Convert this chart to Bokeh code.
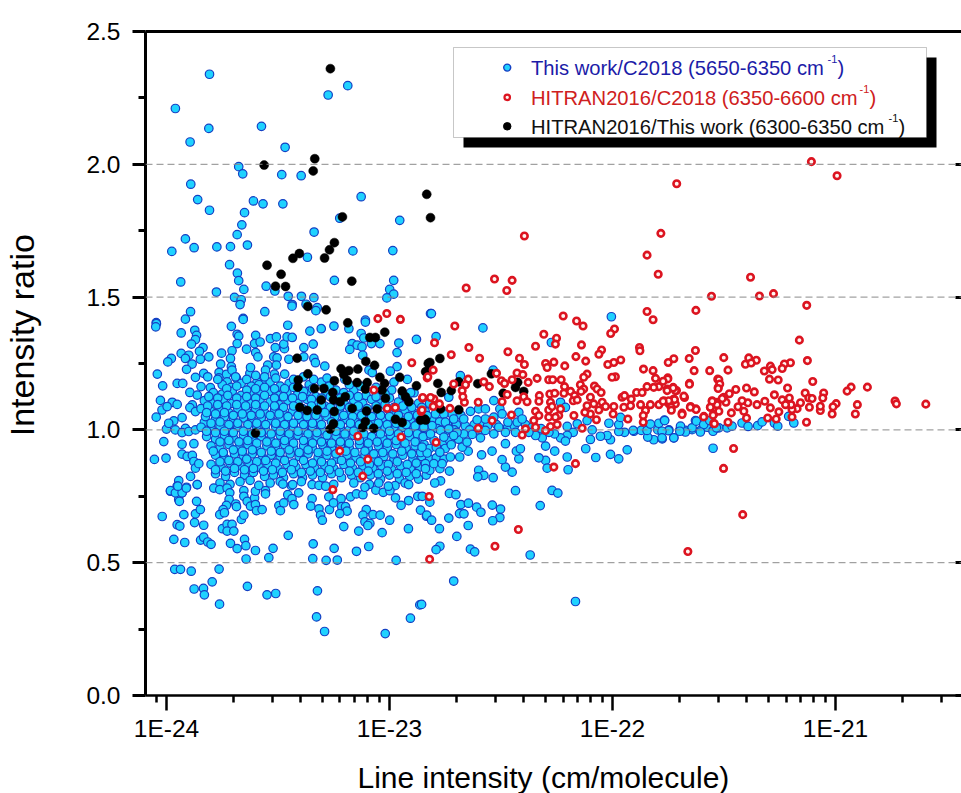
from bokeh.plotting import figure
from bokeh.models import (ColumnDataSource, FixedTicker, LinearAxis, Label, BoxAnnotation, Span, Title,
                          CustomJSTickFormatter, NumeralTickFormatter, Range1d)
from bokeh.embed import file_html
from bokeh.resources import INLINE

# (log10 intensity, ratio)
blue_upper = [(-23.807,2.339),(-23.96,2.21),(-23.81,2.135),(-23.574,2.143),(-23.894,2.084),(-23.468,2.064),(-23.275,2.261),(-23.187,2.296),
(-23.676,1.991),(-23.658,1.964),(-23.483,1.961),(-23.396,1.957),(-23.891,1.925),(-23.86,1.867),(-23.807,1.827),(-23.61,1.862),(-23.567,1.851),
(-23.478,1.851),(-23.127,1.878),(-23.65,1.818),(-23.662,1.772),(-23.223,1.797),(-22.954,1.789),(-23.683,1.735),(-23.338,1.745),(-23.915,1.719),
(-23.976,1.672),(-23.876,1.686),(-23.774,1.689),(-23.713,1.69),(-23.637,1.696),(-23.164,1.674),(-22.985,1.675),(-23.368,1.65),(-23.717,1.622),
(-23.682,1.59),(-23.676,1.562),(-23.936,1.557),(-23.776,1.519),(-23.653,1.529),(-23.553,1.541),(-23.514,1.523),(-23.247,1.563),(-22.981,1.563),
(-22.999,1.529),(-22.981,1.511),(-23.012,1.497),(-23.695,1.499),(-23.665,1.49),(-23.67,1.472),(-23.454,1.503),(-23.395,1.503),(-23.339,1.498),
(-23.436,1.472),(-23.374,1.473),(-23.324,1.46),(-23.33,1.449),(-23.892,1.445),(-23.559,1.445),(-23.915,1.417),(-23.656,1.42),(-24.046,1.404),
(-23.108,1.413),(-22.816,1.438),(-22.812,1.438),(-22.005,1.426),(-22.581,1.384),(-22.791,1.351),(-22.274,1.329),(-22.682,1.204),(-22.535,1.225)]

blue_left = [(-24.045,1.4),(-24.048,1.388),(-23.934,1.365),(-23.873,1.375),(-23.865,1.356),(-23.87,1.34),(-23.888,1.323),(-23.836,1.31),(-23.852,1.296),
(-23.934,1.288),(-23.9,1.281),(-23.915,1.269),(-23.978,1.269),(-23.994,1.256),(-23.81,1.275),(-23.848,1.266),(-23.885,1.248),(-23.91,1.228),(-24.041,1.21),
(-23.952,1.175),(-23.927,1.175),(-24.017,1.166),(-23.833,1.213),(-23.87,1.198),(-23.815,1.2),(-23.845,1.163),(-23.803,1.159),(-23.895,1.141),(-24.027,1.111),
(-23.974,1.104),(-23.952,1.096),(-23.862,1.131),(-23.884,1.094),(-23.895,1.084),(-23.87,1.069),(-24.02,1.075),(-23.997,1.088),(-24.046,1.048),(-23.93,1.046),
(-24.0,1.003),(-23.967,1.034),(-23.99,1.025),(-23.915,1.006),(-23.83,1.029),(-23.96,1.0),(-23.93,0.99),(-23.9,0.994),(-23.87,1.0),(-24.012,0.956),(-23.93,0.946),
(-23.877,0.948),(-24.054,0.889),(-24.002,0.894),(-23.93,0.909),(-23.907,0.9),(-23.884,0.904),(-23.877,0.881),(-23.87,0.856),(-23.855,0.873),(-23.892,0.825),
(-23.945,0.809),(-23.862,0.794),(-23.952,0.788),(-23.91,0.784),(-23.982,0.769),(-23.93,0.763),(-23.945,0.738)]

blue_stem = [(-23.709,1.39),(-23.683,1.36),(-23.676,1.353),(-23.683,1.325),(-23.706,1.298),(-23.753,1.289),(-23.757,1.248),(-23.713,1.269),(-23.709,1.238),
(-23.764,1.216),(-23.731,1.209),(-23.706,1.225),(-23.765,1.196),(-23.728,1.181),(-23.686,1.194),(-23.656,1.416),(-23.6,1.356),(-23.605,1.325),(-23.641,1.304),
(-23.6,1.291),(-23.59,1.275),(-23.626,1.213),(-23.623,1.235),(-23.58,1.331),(-23.534,1.344),(-23.507,1.35),(-23.512,1.31),(-23.471,1.306),(-23.474,1.323),
(-23.456,1.394),(-23.437,1.466),(-23.459,1.35),(-23.436,1.348),(-23.519,1.275),(-23.504,1.271),(-23.507,1.244),(-23.546,1.244),(-23.516,1.21),(-23.556,1.225),
(-23.594,1.181),(-23.556,1.185),(-23.451,1.266),(-23.384,1.31),(-23.342,1.323),(-23.306,1.381),(-23.249,1.391),(-23.357,1.372),(-23.182,1.381),(-23.108,1.406),
(-23.127,1.363),(-23.115,1.346),(-23.081,1.325),(-23.043,1.325),(-22.958,1.327),(-22.879,1.341),(-23.167,1.325),(-23.145,1.319),(-23.178,1.303),(-23.123,1.313),
(-23.12,1.281),(-22.966,1.291),(-23.384,1.275),(-23.339,1.269),(-23.332,1.253),(-23.29,1.24),(-22.966,1.238),(-22.996,1.221),(-23.092,1.225),(-23.077,1.216)]

blue_core_high = [(-23.75,1.17),(-23.71,1.16),(-23.665,1.175),(-23.62,1.165),(-23.585,1.17),(-23.535,1.18),(-23.49,1.165),(-23.45,1.175),(-23.405,1.155),(-23.36,1.17),(-23.305,1.18),(-23.2,1.19),(-23.06,1.16),(-22.98,1.18),(-22.92,1.19),
(-23.79,1.14),(-23.75,1.135),(-23.705,1.145),(-23.665,1.13),(-23.625,1.14),(-23.58,1.135),(-23.54,1.145),(-23.5,1.13),(-23.46,1.14),(-23.415,1.13),(-23.37,1.145),(-23.33,1.125),(-23.285,1.14),(-23.24,1.15),(-23.205,1.14),(-23.16,1.15),(-23.105,1.13),(-22.99,1.15),(-22.89,1.14),
(-23.83,1.11),(-23.79,1.105),(-23.745,1.115),(-23.705,1.1),(-23.66,1.11),(-23.62,1.1),(-23.58,1.115),(-23.535,1.105),(-23.495,1.095),(-23.455,1.11),(-23.41,1.1),(-23.37,1.115),(-23.325,1.1),(-23.29,1.09),(-23.245,1.11),(-23.2,1.095),(-23.16,1.11),(-23.12,1.1),(-23.08,1.115),(-23.04,1.1),(-23.0,1.12),(-22.96,1.105),(-22.92,1.115),(-22.87,1.1),
(-23.845,1.08),(-23.8,1.07),(-23.76,1.08),(-23.72,1.065),(-23.68,1.08),(-23.64,1.07),(-23.6,1.08),(-23.56,1.065),(-23.515,1.075),(-23.475,1.06),(-23.435,1.07),(-23.39,1.055),(-23.35,1.065),(-23.31,1.08),(-23.265,1.06),(-23.225,1.075),(-23.18,1.06),(-23.14,1.07),(-23.095,1.055),(-23.055,1.065),(-23.01,1.08),(-22.97,1.065),(-22.93,1.075),(-22.885,1.06),(-22.84,1.07),
(-23.825,1.05),(-23.78,1.04),(-23.74,1.05),(-23.7,1.035),(-23.655,1.045),(-23.615,1.035),(-23.575,1.045),(-23.53,1.035),(-23.49,1.045),(-23.45,1.03),(-23.405,1.04),(-23.365,1.03),(-23.32,1.04),(-23.28,1.05),(-23.24,1.03),(-23.2,1.04),(-23.155,1.03),(-23.115,1.04),(-23.075,1.03),(-23.03,1.045),(-22.99,1.03),(-22.95,1.04),(-22.905,1.03),(-22.865,1.04),(-22.825,1.03),
(-23.845,1.01),(-23.8,1.005),(-23.76,1.015),(-23.72,1.0),(-23.68,1.01),(-23.64,1.0),(-23.595,1.01),(-23.555,1.0),(-23.51,1.012),(-23.47,1.0),(-23.43,1.01),(-23.385,1.0),(-23.345,1.01),(-23.305,1.0),(-23.22,1.01),(-23.18,1.0),(-23.14,1.01),(-23.06,1.005),(-23.02,1.01),(-22.98,1.0),(-22.94,1.01),(-22.895,1.0),(-22.855,1.01),
(-23.82,0.975),(-23.78,0.965),(-23.74,0.98),(-23.7,0.97),(-23.655,0.98),(-23.615,0.965),(-23.575,0.975),(-23.535,0.965),(-23.49,0.98),(-23.45,0.97),(-23.41,0.98),(-23.365,0.965),(-23.325,0.975),(-23.285,0.96),(-23.24,0.975),(-23.2,0.965),(-23.16,0.98),(-23.115,0.965),(-23.08,0.975),(-23.03,0.965),(-22.995,0.98),(-22.95,0.965),(-22.91,0.975),(-22.87,0.965),(-22.83,0.98)]

blue_core_low = [(-23.8,0.94),(-23.76,0.93),(-23.72,0.945),(-23.675,0.935),(-23.635,0.945),(-23.595,0.93),(-23.55,0.94),(-23.51,0.93),(-23.47,0.945),(-23.43,0.93),(-23.385,0.94),(-23.345,0.93),(-23.3,0.945),(-23.26,0.93),(-23.22,0.94),(-23.18,0.93),(-23.135,0.945),(-23.095,0.93),(-23.05,0.94),(-23.01,0.93),(-22.97,0.945),(-22.925,0.93),(-22.885,0.94),(-22.84,0.925),
(-23.78,0.905),(-23.74,0.895),(-23.695,0.91),(-23.655,0.9),(-23.615,0.91),(-23.57,0.895),(-23.53,0.905),(-23.49,0.895),(-23.445,0.91),(-23.405,0.9),(-23.365,0.91),(-23.32,0.895),(-23.28,0.905),(-23.235,0.89),(-23.19,0.905),(-23.15,0.895),(-23.11,0.905),(-23.065,0.89),(-23.025,0.9),(-22.98,0.89),(-22.94,0.905),(-22.895,0.89),(-22.855,0.9),
(-23.8,0.87),(-23.755,0.86),(-23.715,0.875),(-23.67,0.865),(-23.63,0.875),(-23.585,0.86),(-23.545,0.87),(-23.5,0.855),(-23.46,0.87),(-23.42,0.86),(-23.375,0.87),(-23.335,0.855),(-23.29,0.865),(-23.25,0.855),(-23.205,0.87),(-23.165,0.855),(-23.12,0.865),(-23.075,0.855),(-23.035,0.865),(-22.99,0.85),(-22.95,0.865),(-22.905,0.85),(-22.865,0.86),(-22.825,0.87),
(-23.78,0.835),(-23.735,0.825),(-23.695,0.84),(-23.65,0.83),(-23.61,0.84),(-23.56,0.825),(-23.52,0.83),(-23.475,0.82),(-23.43,0.835),(-23.39,0.82),(-23.345,0.83),(-23.3,0.82),(-23.26,0.835),(-23.215,0.82),(-23.17,0.83),(-23.13,0.82),(-23.085,0.83),(-23.04,0.815),(-23.0,0.83),(-22.955,0.815),(-22.91,0.825),(-22.87,0.815),(-22.835,0.83),
(-23.76,0.8),(-23.715,0.795),(-23.67,0.805),(-23.625,0.81),(-23.535,0.8),(-23.49,0.805),(-23.44,0.79),(-23.395,0.805),(-23.25,0.795),(-23.16,0.8),(-23.09,0.795),(-22.975,0.79),(-22.93,0.8)]

blue_core_fill = [(-23.77,1.19),(-23.69,1.2),(-23.64,1.19),(-23.6,1.205),(-23.56,1.2),(-23.51,1.195),(-23.47,1.21),(-23.43,1.19),(-23.385,1.2),(-23.34,1.19),(-23.28,1.195),
(-23.73,1.155),(-23.685,1.165),(-23.64,1.15),(-23.6,1.155),(-23.56,1.16),(-23.515,1.155),(-23.47,1.155),(-23.43,1.16),(-23.385,1.145),(-23.345,1.155),(-23.27,1.165),(-23.18,1.17),(-23.13,1.165),
(-23.81,1.125),(-23.77,1.12),(-23.725,1.13),(-23.685,1.12),(-23.64,1.125),(-23.6,1.12),(-23.56,1.13),(-23.515,1.12),(-23.475,1.125),(-23.435,1.12),(-23.39,1.125),(-23.35,1.115),(-23.305,1.12),(-23.265,1.125),(-23.22,1.12),(-23.18,1.13),(-23.14,1.125),(-23.06,1.125),(-23.02,1.135),(-22.94,1.13),(-22.905,1.14),
(-23.815,1.09),(-23.77,1.095),(-23.73,1.09),(-23.685,1.095),(-23.645,1.09),(-23.6,1.095),(-23.56,1.09),(-23.515,1.09),(-23.475,1.085),(-23.43,1.09),(-23.39,1.08),(-23.35,1.09),(-23.305,1.095),(-23.265,1.085),(-23.22,1.09),(-23.18,1.085),(-23.14,1.09),(-23.1,1.08),(-23.06,1.09),(-23.02,1.095),(-22.98,1.085),(-22.94,1.09),(-22.9,1.085),(-22.855,1.085),
(-23.82,1.065),(-23.78,1.06),(-23.74,1.065),(-23.7,1.055),(-23.66,1.06),(-23.62,1.055),(-23.58,1.06),(-23.535,1.055),(-23.495,1.06),(-23.455,1.05),(-23.41,1.055),(-23.37,1.05),(-23.33,1.055),(-23.29,1.065),(-23.245,1.05),(-23.205,1.055),(-23.165,1.05),(-23.125,1.055),(-23.08,1.05),(-23.04,1.055),(-23.0,1.05),(-22.96,1.055),(-22.915,1.05),(-22.875,1.055),
(-23.8,1.025),(-23.76,1.03),(-23.72,1.02),(-23.68,1.025),(-23.635,1.02),(-23.595,1.025),(-23.555,1.02),(-23.51,1.025),(-23.47,1.02),(-23.43,1.025),(-23.385,1.02),(-23.345,1.025),(-23.305,1.02),(-23.26,1.03),(-23.22,1.02),(-23.175,1.025),(-23.135,1.02),(-23.095,1.02),(-23.05,1.025),(-23.01,1.02),(-22.97,1.025),(-22.925,1.02),(-22.885,1.015),(-22.845,1.02),
(-23.82,0.995),(-23.78,0.99),(-23.74,0.995),(-23.7,0.99),(-23.655,0.995),(-23.615,0.985),(-23.575,0.99),(-23.53,0.985),(-23.49,0.995),(-23.45,0.985),(-23.41,0.995),(-23.365,0.985),(-23.325,0.99),(-23.28,0.98),(-23.24,0.995),(-23.2,0.985),(-23.16,0.995),(-23.115,0.985),(-23.04,0.985),(-23.0,0.995),(-22.96,0.985),(-22.915,0.99),(-22.875,0.985),(-22.835,0.995),
(-23.76,0.955),(-23.72,0.96),(-23.675,0.955),(-23.635,0.96),(-23.595,0.95),(-23.55,0.955),(-23.51,0.95),(-23.47,0.96),(-23.43,0.95),(-23.385,0.96),(-23.345,0.95),(-23.305,0.955),(-23.26,0.95),(-23.22,0.955),(-23.18,0.95),(-23.135,0.96),(-23.095,0.95),(-23.055,0.955),(-23.01,0.95),(-22.97,0.96),(-22.93,0.95),(-22.885,0.955),(-22.845,0.945),
(-23.79,0.92),(-23.745,0.915),(-23.7,0.925),(-23.66,0.92),(-23.615,0.925),(-23.575,0.915),(-23.53,0.92),(-23.49,0.915),(-23.45,0.925),(-23.405,0.915),(-23.365,0.925),(-23.32,0.915),(-23.28,0.92),(-23.24,0.91),(-23.195,0.92),(-23.155,0.915),(-23.11,0.92),(-23.07,0.91),(-23.03,0.915),(-22.985,0.91),(-22.945,0.92),(-22.9,0.91),(-22.86,0.915),
(-23.76,0.88),(-23.72,0.885),(-23.68,0.88),(-23.64,0.89),(-23.595,0.88),(-23.555,0.885),(-23.51,0.875),(-23.47,0.885),(-23.43,0.875),(-23.385,0.885),(-23.345,0.875),(-23.305,0.88),(-23.26,0.875),(-23.215,0.885),(-23.175,0.875),(-23.13,0.88),(-23.09,0.87),(-23.05,0.88),(-23.005,0.87),(-22.965,0.88),(-22.92,0.87),(-22.88,0.875),
(-23.78,0.85),(-23.735,0.845),(-23.695,0.855),(-23.65,0.85),(-23.61,0.855),(-23.565,0.845),(-23.525,0.85),(-23.48,0.84),(-23.44,0.85),(-23.395,0.84),(-23.355,0.845),(-23.31,0.84),(-23.27,0.85),(-23.225,0.84),(-23.18,0.845),(-23.14,0.84),(-23.095,0.845),(-23.05,0.835),(-23.01,0.845),(-22.965,0.835),(-22.925,0.84),(-22.88,0.835),
(-22.82,1.1),(-22.79,1.085),(-22.76,1.07),(-22.72,1.06),(-22.68,1.055),(-22.81,1.04),(-22.775,1.03),(-22.74,1.02),(-22.7,1.02),(-22.66,1.015),(-22.62,1.02),(-22.58,1.03),(-22.82,1.0),(-22.785,1.005),(-22.75,0.995),(-22.71,1.0),(-22.64,1.0),(-22.6,1.0),(-22.56,1.015),(-22.52,1.02),(-22.47,1.01),(-22.44,1.015),(-22.39,1.02),(-22.36,1.01),(-22.32,1.005),(-22.8,0.96),(-22.76,0.955),(-22.73,0.96),(-22.69,0.965),(-22.82,0.93),(-22.79,0.935),(-22.75,0.93),(-22.82,0.89),(-22.79,0.895),(-22.755,0.89)]

blue_lower = [(-24.019,0.674),(-23.967,0.588),(-23.952,0.643),(-23.94,0.638),(-23.918,0.576),(-23.922,0.681),(-23.874,0.651),(-23.833,0.641),(-23.87,0.684),(-23.848,0.7),
(-23.865,0.731),(-23.942,0.731),(-23.982,0.771),(-23.96,0.763),(-23.93,0.763),(-23.949,0.788),(-23.911,0.781),(-23.862,0.794),(-23.788,0.781),(-23.761,0.775),(-23.728,0.781),
(-23.716,0.763),(-23.719,0.738),(-23.731,0.716),(-23.746,0.7),(-23.761,0.681),(-23.74,0.688),(-23.689,0.721),(-23.686,0.711),(-23.664,0.663),(-23.653,0.679),(-23.749,0.628),
(-23.728,0.644),(-23.706,0.644),(-23.728,0.619),(-23.698,0.619),(-23.847,0.585),(-23.833,0.596),(-23.815,0.578),(-23.8,0.569),(-23.713,0.573),(-23.683,0.553),(-23.65,0.588),
(-23.644,0.564),(-23.601,0.546),(-23.643,0.514),(-23.541,0.519),(-23.522,0.554),(-23.454,0.603),(-23.342,0.571),(-23.344,0.515),(-23.284,0.509),(-23.248,0.554),(-23.234,0.51),
(-23.148,0.543),(-23.093,0.561),(-22.97,0.509),(-23.033,0.613),(-22.915,0.628),(-23.138,0.619),(-23.205,0.636),(-23.963,0.475),(-23.937,0.475),(-23.889,0.468),(-23.764,0.476),
(-23.795,0.428),(-23.876,0.401),(-23.834,0.403),(-23.83,0.379),(-23.762,0.344),(-23.637,0.411),(-23.549,0.379),(-23.51,0.384),(-23.323,0.394),(-23.327,0.296),(-23.291,0.241),
(-23.019,0.233),(-22.906,0.291),(-22.864,0.341),(-23.653,0.771),(-23.653,0.75),(-23.638,0.731),(-23.623,0.713),(-23.605,0.744),(-23.601,0.719),(-23.596,0.696),(-23.571,0.7),
(-23.601,0.769),(-23.586,0.791),(-23.556,0.771),(-23.556,0.759),(-23.496,0.715),(-23.474,0.725),(-23.489,0.696),(-23.456,0.756),(-23.437,0.741),(-23.407,0.763),(-23.429,0.719),
(-23.478,0.796),(-23.434,0.794),(-23.347,0.741),(-23.353,0.713),(-23.316,0.703),(-23.309,0.679),(-23.301,0.66),(-23.269,0.7),(-23.272,0.748),(-23.251,0.725),(-23.217,0.741),
(-23.214,0.711),(-23.197,0.711),(-23.19,0.694),(-23.223,0.685),(-23.175,0.748),(-23.148,0.759),(-23.119,0.756),(-23.11,0.784),(-23.061,0.773),(-23.028,0.765),(-22.998,0.771),
(-23.005,0.788),(-23.048,0.8),(-23.104,0.7),(-23.119,0.679),(-23.074,0.681),(-23.042,0.679),(-23.11,0.654),(-23.088,0.648),(-23.097,0.64),(-22.999,0.66),(-22.973,0.744),
(-22.948,0.716),(-22.914,0.734),(-22.873,0.75),(-22.853,0.75),(-22.861,0.698),(-22.834,0.675),(-22.914,0.794),(-23.347,0.794),(-23.316,0.791),(-23.286,0.788),
(-22.435,0.771),(-22.271,0.772),(-22.245,0.762),(-22.731,0.761),(-22.702,0.756),(-22.324,0.715),(-22.68,0.719),(-22.646,0.724),(-22.609,0.709),(-22.59,0.69),(-22.539,0.717),
(-22.502,0.702),(-22.505,0.67),(-22.537,0.658),(-22.686,0.685),(-22.666,0.684),(-22.734,0.668),(-22.833,0.679),(-22.811,0.66),(-22.776,0.628),(-22.647,0.64),(-22.698,0.599),
(-22.774,0.562),(-22.791,0.549),(-22.637,0.551),(-22.618,0.541),(-22.369,0.529),(-22.712,0.431),(-22.166,0.354),(-22.856,0.343),(-22.819,0.728)]

blue_band = [(-21.549,0.931),(-21.934,0.925),(-21.972,0.891),(-22.009,0.908),(-22.075,0.896),(-22.12,0.929),(-22.203,0.898),(-22.259,0.92),(-22.3,0.939),(-22.3,0.885),(-22.33,0.895),
(-22.293,0.856),(-22.199,0.85),(-22.45,0.841),(-22.48,0.86),(-22.495,0.888),(-22.42,0.891),(-22.431,0.92),(-22.413,0.929),(-22.48,0.948),(-22.54,0.92),(-22.587,0.906),(-22.6,0.848),
(-22.577,0.829),(-22.604,0.823),(-22.535,0.82),(-22.771,0.808),(-22.797,0.8),(-22.731,0.845),(-22.774,0.854),(-22.819,0.848),(-22.839,0.873),(-22.801,0.873),(-22.764,0.873),
(-22.727,0.898),(-22.685,0.898),(-22.647,0.92),(-22.674,0.935),(-22.723,0.944),(-22.831,0.913),(-22.774,0.916),(-22.854,0.935),(-22.839,0.854),
(-21.725,0.97),(-21.815,0.963),(-21.777,0.966),(-21.842,0.973),(-21.904,0.995),(-21.871,0.998),(-21.946,0.991),(-21.972,0.994),(-22.009,0.963),(-22.024,0.979),(-22.054,0.976),
(-22.099,0.964),(-22.091,1.0),(-22.016,1.025),(-21.972,1.02),(-21.964,1.047),(-21.907,0.998),(-21.845,0.998),(-21.797,1.0),(-21.83,1.022),(-21.792,1.025),(-21.767,1.037),(-21.747,1.0),
(-21.698,1.0),(-21.673,0.998),(-21.643,1.001),(-21.605,0.998),(-21.628,1.035),(-21.575,1.01),(-21.549,0.998),(-21.523,1.008),(-22.114,1.035),(-22.158,1.023),(-22.203,1.013),
(-22.176,0.991),(-22.203,0.979),(-22.233,0.97),(-22.26,0.985),(-22.211,0.958),(-22.285,0.991),(-22.315,0.97),(-22.345,0.979),(-22.375,0.991),(-22.427,1.029),(-22.469,1.029),
(-22.435,0.991),(-22.48,0.991),(-22.51,1.01),(-22.532,0.985),(-22.57,0.998),(-22.592,0.97),(-22.629,0.983),(-22.667,0.985),(-22.697,0.991),(-22.652,0.954),(-22.667,1.041),
(-22.637,1.07),(-22.6,1.079),(-22.57,1.079),(-22.532,1.11),(-22.505,1.079),(-22.532,1.048),(-22.57,1.041),(-22.607,1.038),(-22.712,1.041),(-22.756,1.06),(-22.794,1.06),(-22.831,1.054),
(-22.749,1.029),(-22.771,0.998),(-22.734,1.004),(-22.809,1.016),(-22.846,1.01),(-22.849,0.975),(-22.816,0.985),(-22.756,0.973),(-22.712,0.979),(-22.42,1.066),(-22.405,1.041),
(-22.495,1.06),(-22.734,1.123),(-22.233,1.104),(-22.211,1.085),
(-21.766,1.035),(-21.695,1.014),(-21.643,1.008),(-21.624,1.033),(-21.591,1.02),(-21.564,1.035),(-21.549,0.995),(-21.606,0.992),(-21.673,0.992),(-21.725,0.97),(-21.748,0.997),
(-21.778,0.995),(-21.486,1.008),(-21.419,1.026),(-21.392,1.013),(-21.349,1.016),(-21.329,1.03),(-21.274,1.026),(-21.259,1.014),(-21.187,1.026),(-21.21,1.051),(-21.464,1.014),
(-21.534,1.008),(-21.698,0.995),(-21.778,0.97)]

black_points = [(-23.265,2.36),(-23.335,2.021),(-23.342,1.975),(-23.562,1.997),(-22.833,1.887),(-22.816,1.799),(-23.211,1.802),(-23.247,1.705),(-23.269,1.678),(-23.291,1.647),
(-23.404,1.664),(-23.433,1.646),(-23.549,1.62),(-23.486,1.586),(-23.511,1.541),(-23.466,1.54),(-23.169,1.56),(-23.366,1.465),(-23.284,1.452),(-23.187,1.403),(-23.021,1.368),
(-23.088,1.348),(-23.063,1.348),(-23.414,1.27),(-23.106,1.258),(-23.067,1.243),(-23.366,1.211),(-23.217,1.23),(-23.182,1.223),(-23.142,1.229),(-23.205,1.209),(-23.19,1.186),
(-23.145,1.178),(-23.247,1.185),(-23.409,1.188),(-23.411,1.161),(-23.336,1.156),(-23.294,1.156),(-23.254,1.141),(-23.306,1.113),(-23.251,1.113),(-23.221,1.106),(-23.198,1.125),
(-23.1,1.178),(-23.108,1.154),(-23.043,1.198),(-23.022,1.175),(-23.033,1.15),(-23.018,1.119),(-22.954,1.198),(-22.943,1.146),(-22.928,1.125),(-22.913,1.106),(-22.879,1.166),
(-22.826,1.25),(-22.838,1.219),(-23.402,1.085),(-23.369,1.073),(-23.324,1.075),(-23.248,1.069),(-23.167,1.081),(-23.103,1.071),(-23.055,1.079),(-23.251,1.023),(-23.266,1.003),
(-23.108,1.031),(-23.12,1.009),(-23.071,1.006),(-22.973,1.04),(-22.943,1.028),(-22.861,1.037),(-22.838,1.037),(-23.601,0.988),
(-22.774,1.269),(-22.819,1.254),(-22.834,1.219),(-22.783,1.175),(-22.768,1.141),(-22.723,1.148),(-22.689,1.181),(-22.604,1.174),(-22.543,1.211),(-22.425,1.179),(-22.435,1.16),
(-22.398,1.145),(-22.49,1.138),(-22.843,1.041),(-22.689,1.076),(-22.771,1.079)]

red_left = [(-23.052,1.419),(-23.012,1.438),(-22.951,1.416),(-22.9,1.253),(-23.07,1.15),(-23.01,1.081),(-22.974,1.084),(-22.858,1.069),(-22.852,1.119),(-22.831,1.196),
(-23.142,0.976),(-22.948,0.973),(-23.223,0.921),(-23.097,0.889),(-23.12,0.826),(-23.254,0.775),(-22.822,0.749),(-22.422,0.625),(-22.527,0.562),(-22.82,0.513),(-21.662,0.542),
(-21.416,0.681),(-21.502,0.855),(-21.457,0.93)]

red_middle = [(-22.395,1.73),(-21.783,1.74),(-21.845,1.658),(-21.795,1.586),(-22.529,1.568),(-22.45,1.563),(-22.656,1.534),(-22.474,1.525),(-21.556,1.503),(-21.845,1.446),
(-21.626,1.45),(-21.818,1.415),(-22.221,1.429),(-22.161,1.41),(-22.132,1.391),(-22.707,1.391),(-21.991,1.38),(-22.008,1.363),(-22.308,1.36),(-22.251,1.345),(-22.798,1.328),
(-22.256,1.323),(-22.644,1.31),(-22.345,1.315),(-22.139,1.32),(-21.879,1.31),(-21.877,1.298),(-22.049,1.301),(-22.061,1.285),(-22.469,1.294),(-21.628,1.299),(-22.723,1.283),
(-22.596,1.27),(-22.417,1.27),(-22.164,1.276),(-21.656,1.269),(-21.725,1.268),(-21.75,1.254),(-22.395,1.246),(-22.30,1.25),(-22.263,1.255),(-22.12,1.259),(-22.214,1.241),
(-21.963,1.263),(-21.994,1.254),(-22.021,1.246),(-22.293,1.235),(-21.861,1.229),(-21.818,1.223),(-21.634,1.223),(-21.564,1.223),(-22.804,1.225),(-22.828,1.2),(-22.52,1.213),
(-22.428,1.214),(-22.402,1.208),(-22.114,1.21),(-22.129,1.198),(-21.987,1.2),(-22.002,1.198),(-21.807,1.194),(-21.752,1.196),(-21.528,1.191),(-22.338,1.194),(-22.647,1.191),
(-22.659,1.17),(-22.712,1.173),(-22.577,1.181),(-22.552,1.163),(-22.498,1.185),(-22.484,1.175),(-22.45,1.189),(-22.378,1.179),(-22.286,1.189),(-22.268,1.189),(-22.23,1.189),
(-21.655,1.175),(-21.526,1.16),(-21.792,1.163),(-21.755,1.154),(-21.815,1.16),(-21.845,1.163),(-21.728,1.16),(-21.713,1.148),(-22.081,1.165),(-22.069,1.154),(-22.144,1.17),
(-22.129,1.154),(-22.215,1.163),(-22.218,1.138),(-22.188,1.145),(-22.17,1.129),(-22.051,1.141),(-22.141,1.145),(-22.674,1.148),(-22.664,1.104),(-22.671,1.125),(-22.602,1.104),
(-22.851,1.122),(-22.801,1.116),(-22.816,1.122),(-22.776,1.098),(-22.804,1.088),(-22.729,1.081),(-22.854,1.075),(-22.472,1.133),(-22.495,1.106),(-22.428,1.11),(-22.398,1.125),
(-22.383,1.106),(-22.328,1.129),(-22.33,1.108),(-22.281,1.135),(-22.259,1.138),(-22.278,1.104),(-22.176,1.11),(-22.158,1.113),(-22.099,1.123),(-22.114,1.091),(-22.084,1.098),
(-22.046,1.104),(-22.031,1.088),(-22.061,1.075),(-22.099,1.06),(-22.124,1.066),(-21.994,1.088),(-21.997,1.06),(-21.957,1.123),(-21.946,1.129),(-21.916,1.116),(-21.892,1.141),
(-21.867,1.141),(-21.949,1.085),(-21.919,1.091),(-21.874,1.095),(-21.83,1.095),(-21.852,1.073),(-21.862,1.054),(-21.862,1.029),(-21.931,1.041),(-21.792,1.095),(-21.77,1.11),
(-21.747,1.098),(-21.725,1.116),(-21.718,1.098),(-21.737,1.085),(-21.677,1.122),(-21.688,1.063),(-21.65,1.088),(-21.626,1.079),(-21.59,1.051),(-21.546,1.025),(-21.553,1.11),
(-21.531,1.104),(-21.561,1.085),(-21.546,1.06),(-22.345,1.07),(-22.33,1.054),(-22.353,1.035),(-22.345,1.01),(-22.286,1.075),(-22.271,1.088),(-22.233,1.079),(-22.241,1.054),
(-22.256,1.048),(-22.286,1.048),(-22.248,1.02),(-22.278,1.013),(-22.3,0.998),(-22.173,1.054),(-22.453,1.056),(-22.54,1.035),(-22.602,1.006),(-22.39,1.004),(-22.405,0.981),
(-22.136,1.006),(-22.072,1.038),(-22.791,0.953),(-22.263,0.86),(-22.166,0.873)]

red_right = [(-21.108,2.01),(-20.993,1.957),(-21.712,1.927),(-21.381,1.575),(-21.341,1.504),(-21.278,1.513),(-21.129,1.469),(-21.162,1.338),(-21.501,1.272),(-21.389,1.271),
(-21.355,1.262),(-21.404,1.247),(-21.378,1.252),(-21.126,1.261),(-21.202,1.253),(-21.229,1.248),(-21.292,1.24),(-21.239,1.231),(-21.319,1.222),(-21.284,1.227),(-21.482,1.225),
(-21.296,1.191),(-21.257,1.188),(-21.102,1.182),(-21.523,1.189),(-21.519,1.173),(-21.526,1.156),(-21.399,1.158),(-21.364,1.143),(-21.447,1.152),(-21.476,1.136),(-21.501,1.123),
(-21.215,1.158),(-21.136,1.139),(-21.053,1.139),(-20.93,1.161),(-20.948,1.146),(-20.857,1.161),(-21.274,1.132),(-21.207,1.12),(-21.239,1.113),(-21.12,1.12),(-21.057,1.12),
(-21.105,1.118),(-21.157,1.102),(-20.997,1.099),(-21.011,1.087),(-20.902,1.095),(-20.733,1.109),(-20.727,1.098),(-20.595,1.097),(-20.911,1.06),(-21.015,1.06),(-21.068,1.073),
(-21.068,1.089),(-21.117,1.085),(-21.172,1.08),(-21.195,1.077),(-21.199,1.095),(-21.224,1.095),(-21.254,1.068),(-21.292,1.083),(-21.317,1.108),(-21.352,1.095),(-21.393,1.102),
(-21.419,1.11),(-21.437,1.087),(-21.411,1.07),(-21.467,1.064),(-21.491,1.104),(-21.508,1.118),(-21.531,1.095),(-21.553,1.108),(-21.561,1.085),(-21.523,1.07),(-21.549,1.055),
(-21.591,1.049),(-21.625,1.077),(-21.651,1.085),(-21.688,1.058),(-21.736,1.074),(-21.722,1.114),(-21.748,1.11),(-21.773,1.108),(-21.68,1.127),(-21.718,1.148),(-21.728,1.158),
(-21.755,1.148),(-21.655,1.172),(-21.752,1.192),(-21.773,1.183),(-21.399,1.045),(-21.304,1.045),(-21.266,1.041),(-21.195,1.049),(-21.13,1.029),(-21.482,1.029),(-21.543,1.023)]

y_ticks = [0.0, 0.5, 1.0, 1.5, 2.0, 2.5]
y_minor = [0.25, 0.75, 1.25, 1.75, 2.25]
grid_levels = [0.5, 1.0, 1.5, 2.0]
decades = [-24, -23, -22, -21]
legend_names = ["This work/C2018 (5650-6350 cm", "HITRAN2016/C2018 (6350-6600 cm", "HITRAN2016/This work (6300-6350 cm"]

FONT = "Liberation Sans"
sx = lambda px: px - 145
sy = lambda py: 695 - py


def source(*groups):
    pts = [pt for g in groups for pt in g]
    return ColumnDataSource(dict(x=[10.0 ** a for a, _ in pts], y=[b for _, b in pts]))


p = figure(x_axis_type="log", output_backend="svg", toolbar_location=None,
           x_range=Range1d(10 ** -24.094, 10 ** -20.435), y_range=Range1d(0, 2.5),
           min_border_left=145, min_border_right=0, min_border_top=31, min_border_bottom=84,
           frame_width=816, frame_height=664, outline_line_color=None, background_fill_color="white")
p.grid.visible = False

for lv in grid_levels:
    p.add_layout(Span(location=lv, dimension="width", line_color="#8a8a8a", line_width=1, line_dash="7 4"))

# x axis
ax = p.xaxis[0]
ax.ticker = FixedTicker(ticks=[10.0 ** d for d in decades],
                        minor_ticks=[m * 10.0 ** d for d in [-25, -24, -23, -22, -21] for m in range(2, 10)])
ax.formatter = CustomJSTickFormatter(code='return "1E" + Math.round(Math.log10(tick));')
ax.major_tick_out, ax.major_tick_in = 15, 0
ax.minor_tick_out, ax.minor_tick_in = 7, 0
ax.major_tick_line_width = ax.minor_tick_line_width = ax.axis_line_width = 2.5
ax.major_tick_line_color = ax.minor_tick_line_color = ax.axis_line_color = "black"
ax.major_label_text_font = FONT
ax.major_label_text_font_size = "24.5px"
ax.major_label_text_color = "black"
ax.major_label_standoff = 4

# y axis
ay = p.yaxis[0]
ay.ticker = FixedTicker(ticks=y_ticks, minor_ticks=y_minor)
ay.formatter = NumeralTickFormatter(format="0.0")
ay.major_tick_out, ay.major_tick_in = 13, 0
ay.minor_tick_out, ay.minor_tick_in = 7, 0
ay.major_tick_line_width = ay.minor_tick_line_width = ay.axis_line_width = 3
ay.major_label_text_font = FONT
ay.major_label_text_font_size = "24.5px"
ay.major_label_text_color = "black"
ay.major_label_standoff = 12
ay.major_tick_line_color = ay.minor_tick_line_color = ay.axis_line_color = "black"
ay.axis_label = "\u00a0" * 6 + "Intensity ratio"
ay.axis_label_text_font = FONT
ay.axis_label_text_font_size = "34px"
ay.axis_label_text_font_style = "normal"
ay.axis_label_text_color = "black"
ay.axis_label_standoff = 42

p.add_layout(Title(text="Line intensity (cm/molecule)", align="left", offset=sx(357), standoff=29, text_font=FONT, text_font_size="30px",
                   text_font_style="normal", text_color="black"), "below")

# top line, right-hand ticks
top = LinearAxis(ticker=FixedTicker(ticks=[]), axis_line_width=3, axis_line_color="black",
                 major_tick_line_color=None, minor_tick_line_color=None, major_label_text_font_size="0px",
                 major_label_standoff=0, major_tick_out=0, minor_tick_out=0)
p.add_layout(top, "above")
right = LinearAxis(ticker=FixedTicker(ticks=y_ticks), axis_line_color=None, major_tick_in=6, major_tick_out=0,
                   minor_tick_line_color=None, major_tick_line_width=3, major_tick_line_color="black",
                   major_label_text_font_size="0px", major_label_standoff=0,
                   formatter=CustomJSTickFormatter(code='return "";'))
p.add_layout(right, "right")

# points
BLUE = dict(marker="circle", size=8.5, fill_color="#1fd2ff", line_color="#1440c4", line_width=1.2)
RED = dict(marker="circle", size=6.5, fill_color="#fff4f0", line_color="#dc1420", line_width=2.6)
BLACK = dict(marker="circle", size=9, fill_color="black", line_color="black", line_width=0.5)

p.scatter("x", "y", source=source(blue_upper, blue_left, blue_stem, blue_core_high, blue_core_low, blue_core_fill, blue_lower, blue_band), **BLUE)
p.scatter("x", "y", source=source(black_points), **BLACK)
p.scatter("x", "y", source=source(red_left, red_middle, red_right), **RED)

# legend
p.add_layout(BoxAnnotation(left=sx(463), right=sx(936), top=sy(57), bottom=sy(147), left_units="screen", right_units="screen",
                           top_units="screen", bottom_units="screen", fill_color="black", fill_alpha=1, line_color=None))
p.add_layout(BoxAnnotation(left=sx(453), right=sx(926), top=sy(47), bottom=sy(137), left_units="screen", right_units="screen",
                           top_units="screen", bottom_units="screen", fill_color="white", fill_alpha=1, line_color="#444444", line_width=1))
legend_x = 10 ** -22.472
p.scatter([legend_x], [2.364], size=7, marker="circle", fill_color="#1fd2ff", line_color="#1440c4", line_width=1.4, level="overlay")
p.scatter([legend_x], [2.252], size=5.5, marker="circle", fill_color="#fff4f0", line_color="#dc1420", line_width=2.2, level="overlay")
p.scatter([legend_x], [2.143], size=7.5, marker="circle", fill_color="black", line_color="black", level="overlay")

legend_colors = ["#1c1ca8", "#cf2020", "#111111"]
legend_y = [67, 97, 126]
legend_sup_x = [827, 859, 888]
for name, col, ly, supx in zip(legend_names, legend_colors, legend_y, legend_sup_x):
    p.add_layout(Label(x=sx(530.5), y=sy(ly), x_units="screen", y_units="screen", text=name, text_color=col,
                       text_font=FONT, text_font_size="20.2px", text_baseline="middle"))
    p.add_layout(Label(x=sx(supx), y=sy(ly - 9), x_units="screen", y_units="screen", text="-1", text_color=col,
                       text_font=FONT, text_font_size="11px", text_baseline="middle"))
    p.add_layout(Label(x=sx(supx + 10), y=sy(ly), x_units="screen", y_units="screen", text=")", text_color=col,
                       text_font=FONT, text_font_size="20.2px", text_baseline="middle"))

open("out.html", "w").write(file_html(p, INLINE))
